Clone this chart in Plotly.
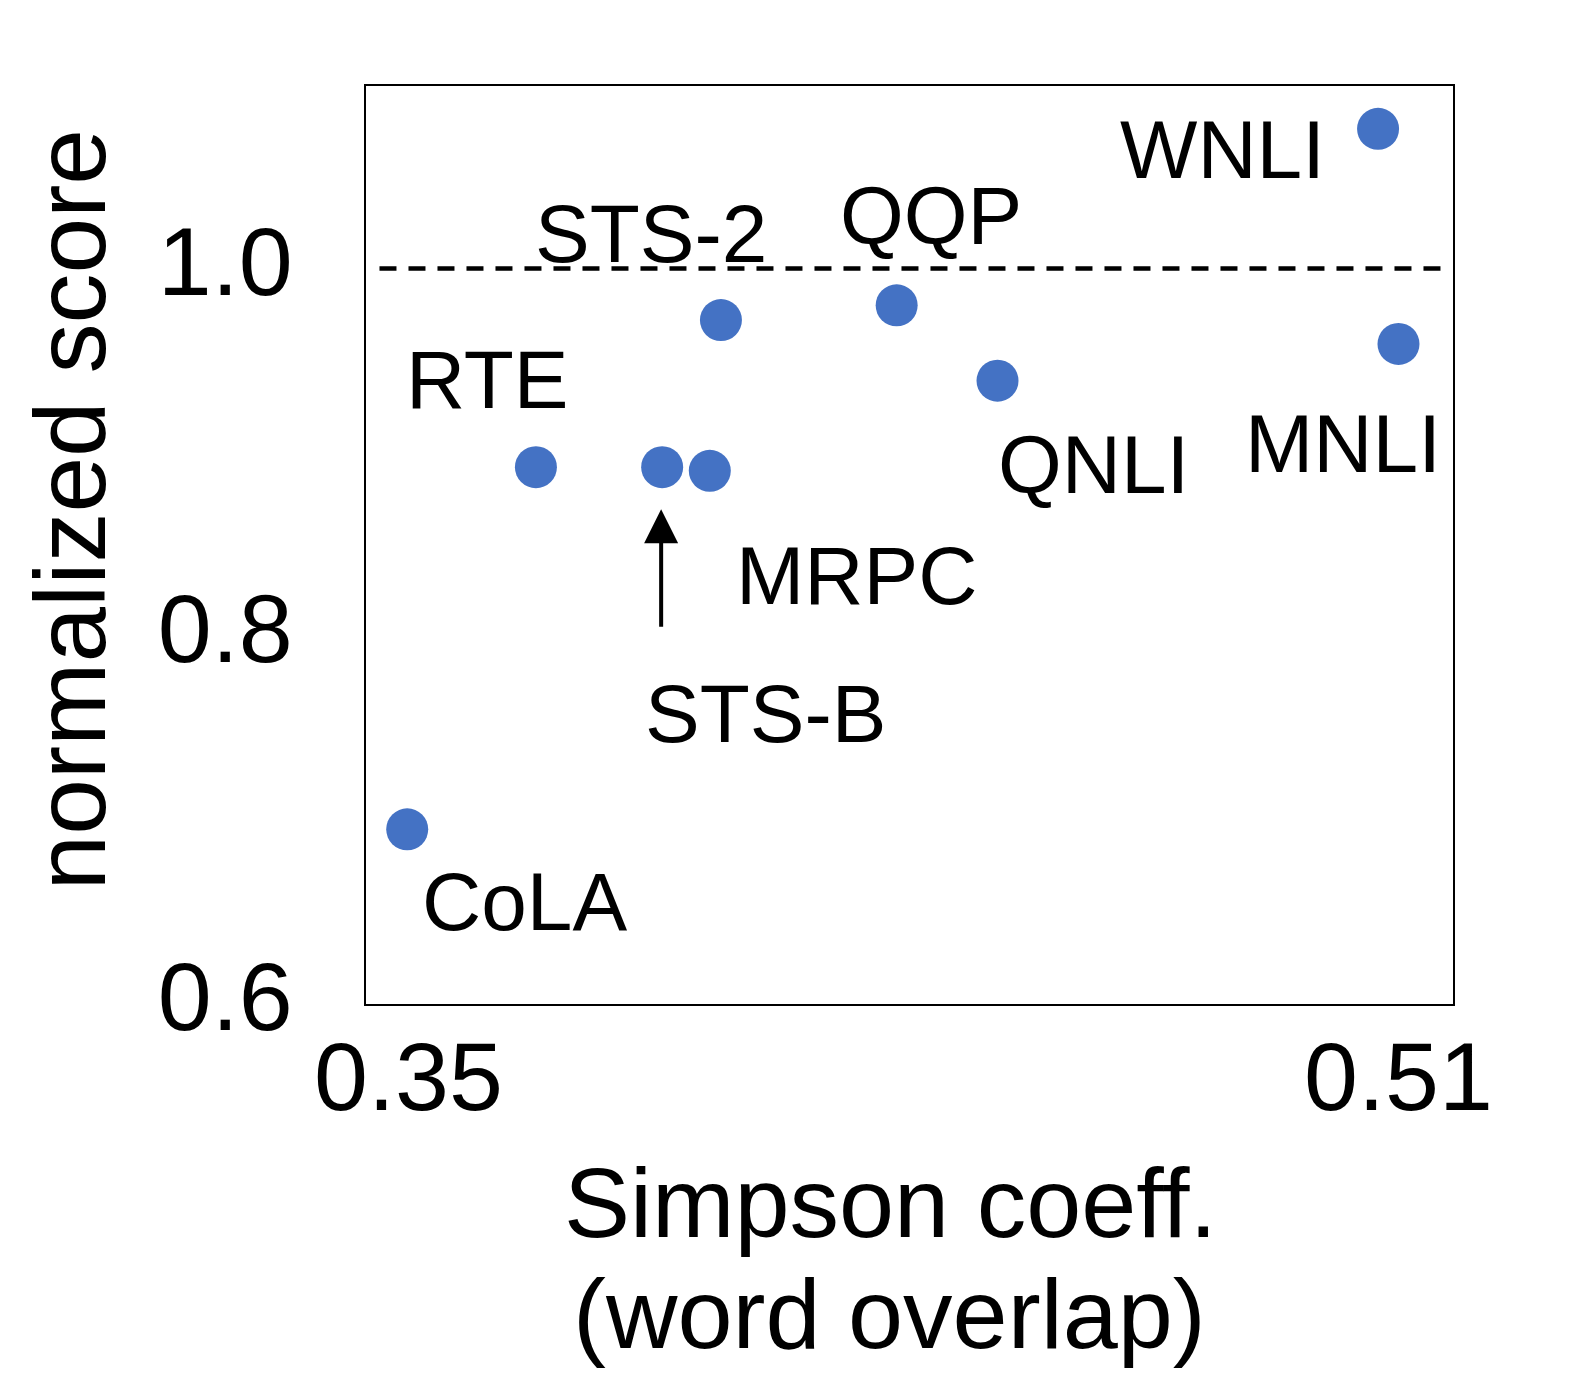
import plotly.graph_objects as go

# ---- data ----
tasks = ["CoLA", "RTE", "STS-B", "MRPC", "STS-2", "QQP", "QNLI", "WNLI", "MNLI"]
simpson = [0.3498, 0.3706, 0.3910, 0.3987, 0.4005, 0.4289, 0.4452, 0.5067, 0.5100]
score = [0.695, 0.892, 0.892, 0.890, 0.972, 0.980, 0.939, 1.076, 0.959]
x_ticks = [0.35, 0.51]
x_tick_labels = ["0.35", "0.51"]
y_ticks = [0.6, 0.8, 1.0]
y_tick_labels = ["0.6", "0.8", "1.0"]
reference_score = 1.0

# label offsets in pixels (dx right, dy down) relative to each point
label_dx = [117, -48, 103, 147, -70, 34, 96, -156, -55]
label_dy = [72, -88, 246, 105, -87, -90, 84, 21, 100]

FONT = "Liberation Sans, Arial, Helvetica, sans-serif"

fig = go.Figure()
fig.add_trace(go.Scatter(
    x=simpson, y=score, mode="markers",
    marker=dict(size=42, color="#4472C4", line=dict(width=0)),
    showlegend=False, hoverinfo="skip",
))

fig.add_shape(type="line", xref="paper", yref="y", x0=0.0124, x1=0.9947,
              y0=reference_score, y1=reference_score,
              line=dict(color="black", width=4.5, dash="17px,12px"))

annotations = []
for name, x, y, dx, dy in zip(tasks, simpson, score, label_dx, label_dy):
    annotations.append(dict(
        x=x, y=y, xref="x", yref="y", text=name, showarrow=False,
        xanchor="center", yanchor="middle", xshift=dx, yshift=-dy,
        font=dict(family=FONT, size=82, color="black"),
    ))

# arrow pointing at STS-B
i_stsb = tasks.index("STS-B")
annotations.append(dict(
    x=simpson[i_stsb], y=score[i_stsb], xref="x", yref="y", text="",
    showarrow=True, ax=0, ay=161, axref="pixel", ayref="pixel",
    arrowhead=2, arrowsize=1.7, arrowwidth=4, arrowcolor="black",
    standoff=42, xshift=-1,
))

# axis titles
annotations.append(dict(
    x=-0.2720, y=0.538, xref="paper", yref="paper", text="normalized score",
    textangle=-90, showarrow=False, xanchor="center", yanchor="middle",
    font=dict(family=FONT, size=100, color="black"),
))
annotations.append(dict(
    x=0.4828, y=-0.2161, xref="paper", yref="paper", text="Simpson coeff.",
    showarrow=False, xanchor="center", yanchor="middle", borderpad=0,
    font=dict(family=FONT, size=99, color="black"),
))
annotations.append(dict(
    x=0.4819, y=-0.3369, xref="paper", yref="paper", text="(word overlap)",
    showarrow=False, xanchor="center", yanchor="middle", borderpad=0,
    font=dict(family=FONT, size=99, color="black"),
))

fig.update_layout(
    width=1583, height=1396,
    margin=dict(l=366, r=130, t=86, b=392),
    paper_bgcolor="white", plot_bgcolor="white",
    annotations=annotations,
    xaxis=dict(
        range=[0.34314, 0.51881], tickvals=x_ticks, ticktext=x_tick_labels,
        showgrid=False, zeroline=False, ticks="",
        showline=True, mirror=True, linecolor="black", linewidth=2,
        tickfont=dict(family=FONT, size=97, color="black"),
        ticklabelstandoff=-12,
    ),
    yaxis=dict(
        range=[0.6, 1.0993], tickvals=y_ticks, ticktext=y_tick_labels,
        showgrid=False, zeroline=False, ticks="",
        showline=True, mirror=True, linecolor="black", linewidth=2,
        tickfont=dict(family=FONT, size=97, color="black"),
        ticklabelstandoff=52, ticklabelshift=-8,
    ),
)

fig.write_html("out.html")
